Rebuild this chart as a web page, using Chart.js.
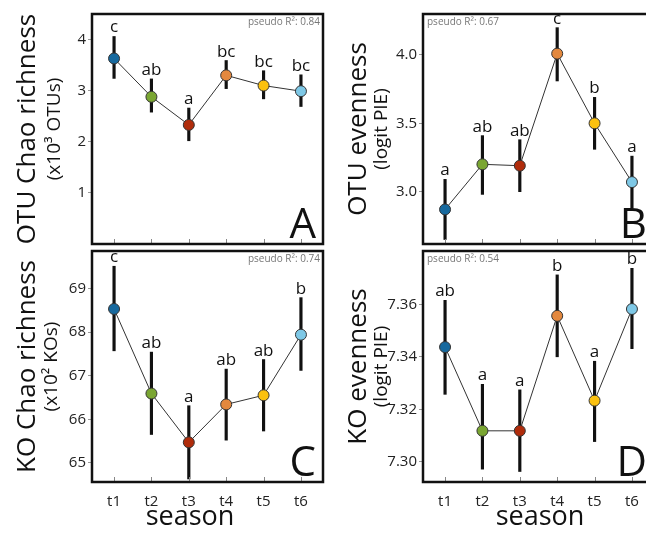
<!DOCTYPE html>
<html>
<head>
<meta charset="utf-8">
<script src="https://cdn.jsdelivr.net/npm/chart.js@4"></script>
<style>
  html, body { margin: 0; padding: 0; background: #fff; overflow: hidden; width: 646px; height: 533px; }
  canvas { position: absolute; left: 0; top: 0; }
</style>
</head>
<body>
<canvas id="chartA" width="700" height="533"></canvas>
<canvas id="chartB" width="700" height="533"></canvas>
<canvas id="chartC" width="700" height="533"></canvas>
<canvas id="chartD" width="700" height="533"></canvas>
<script>
const seasons = ['t1', 't2', 't3', 't4', 't5', 't6'];
const seasonColors = ['#17699e', '#7aa632', '#b02c0b', '#e3883e', '#fbc10f', '#7ec8e6'];

// A: OTU Chao richness (x10^3 OTUs)
const otuChao = [3.63, 2.88, 2.33, 3.30, 3.10, 2.99];
const otuChaoLo = [3.24, 2.58, 2.02, 3.04, 2.84, 2.69];
const otuChaoHi = [4.06, 3.23, 2.66, 3.59, 3.39, 3.31];
const otuChaoLetters = ['c', 'ab', 'a', 'bc', 'bc', 'bc'];
const otuChaoTicks = [1, 2, 3, 4];

// B: OTU evenness (logit PIE)
const otuEven = [2.87, 3.20, 3.19, 4.01, 3.50, 3.07];
const otuEvenLo = [2.65, 2.98, 3.00, 3.81, 3.31, 2.88];
const otuEvenHi = [3.09, 3.41, 3.38, 4.20, 3.69, 3.26];
const otuEvenLetters = ['a', 'ab', 'ab', 'c', 'b', 'a'];
const otuEvenTicks = [3.0, 3.5, 4.0];

// C: KO Chao richness (x10^2 KOs)
const koChao = [68.53, 66.59, 65.47, 66.34, 66.55, 67.94];
const koChaoLo = [67.57, 65.65, 64.63, 65.52, 65.73, 67.12];
const koChaoHi = [69.51, 67.54, 66.31, 67.15, 67.37, 68.79];
const koChaoLetters = ['c', 'ab', 'a', 'ab', 'ab', 'b'];
const koChaoTicks = [65, 66, 67, 68, 69];

// D: KO evenness (logit PIE)
const koEven = [7.3437, 7.3118, 7.3118, 7.3556, 7.3233, 7.3582];
const koEvenLo = [7.3257, 7.2972, 7.2963, 7.3400, 7.3077, 7.3431];
const koEvenHi = [7.3615, 7.3295, 7.3274, 7.3712, 7.3383, 7.3737];
const koEvenLetters = ['ab', 'a', 'a', 'b', 'a', 'b'];
const koEvenTicks = [7.30, 7.32, 7.34, 7.36];

const FONT = "'Open Sans', 'Noto Sans', sans-serif";
Chart.defaults.font.family = FONT;
Chart.defaults.color = '#222';

// draws frame, inner x ticks, significance letters, titles and panel letter
const decor = {
  id: 'decor',
  afterDatasetsDraw(chart, args, o) {
    const ctx = chart.ctx;
    const xs = chart.scales.x, ys = chart.scales.y;
    ctx.save();
    ctx.fillStyle = '#111';
    ctx.font = '17px ' + FONT;
    ctx.textAlign = 'center';
    ctx.textBaseline = 'alphabetic';
    o.letters.forEach((l, i) => {
      ctx.fillText(l, xs.getPixelForValue(i + 1), ys.getPixelForValue(o.hi[i]) - 4);
    });
    ctx.restore();
  },
  afterDraw(chart, args, o) {
    const ctx = chart.ctx;
    const a = chart.chartArea;
    const xs = chart.scales.x;
    ctx.save();
    // inner x ticks
    ctx.strokeStyle = '#888';
    ctx.lineWidth = 1;
    xs.ticks.forEach(t => {
      const px = Math.round(xs.getPixelForValue(t.value)) + 0.5;
      ctx.beginPath();
      ctx.moveTo(px, a.bottom);
      ctx.lineTo(px, a.bottom - 5);
      ctx.stroke();
    });
    // frame
    ctx.strokeStyle = '#111';
    ctx.lineWidth = 2.5;
    ctx.strokeRect(a.left, a.top, a.right - a.left, a.bottom - a.top);
    // pseudo R2
    ctx.fillStyle = '#777';
    ctx.font = '10px ' + FONT;
    ctx.textBaseline = 'middle';
    if (o.r2Left) {
      ctx.textAlign = 'left';
      ctx.fillText('pseudo R²: ' + o.r2, a.left + 4, a.top + 8);
    } else {
      ctx.textAlign = 'right';
      ctx.fillText('pseudo R²: ' + o.r2, a.right - 3, a.top + 8);
    }
    // panel letter
    ctx.fillStyle = '#111';
    ctx.font = '42px ' + FONT;
    ctx.textAlign = 'right';
    ctx.textBaseline = 'alphabetic';
    ctx.fillText(o.panel, a.right - 7, a.bottom - 6);
    // y titles
    const cy = (a.top + a.bottom) / 2;
    ctx.textAlign = 'center';
    ctx.textBaseline = 'middle';
    ctx.save();
    ctx.translate(o.titleX, cy);
    ctx.rotate(-Math.PI / 2);
    ctx.font = '26px ' + FONT;
    ctx.fillText(o.title, 0, 0);
    ctx.restore();
    ctx.save();
    ctx.translate(o.subX, cy);
    ctx.rotate(-Math.PI / 2);
    ctx.font = '19px ' + FONT;
    ctx.fillText(o.sub, 0, 0);
    ctx.restore();
    // x title
    if (o.xTitle) {
      ctx.font = '27px ' + FONT;
      ctx.fillText(o.xTitle, o.xTitleX, 517);
    }
    ctx.restore();
  }
};

function makePanel(id, box, vals, lo, hi, letters, yTicks, yMin, yMax, digits, info) {
  const showX = info.showX;
  new Chart(document.getElementById(id), {
    data: {
      datasets: [{
        type: 'line',
        data: vals.map((v, i) => ({x: i + 1, y: v})),
        borderColor: '#333',
        borderWidth: 1,
        pointRadius: 5.5,
        pointHoverRadius: 5.5,
        pointBackgroundColor: seasonColors,
        pointBorderColor: '#333',
        pointBorderWidth: 1,
        order: 0
      }, {
        type: 'bar',
        data: vals.map((v, i) => ({x: i + 1, y: [lo[i], hi[i]]})),
        backgroundColor: '#111',
        barThickness: 2.5,
        order: 1
      }]
    },
    options: {
      responsive: false,
      animation: false,
      layout: {padding: {left: box.padLeft, top: box.top, right: 700 - box.right, bottom: 533 - box.bottom - (showX ? 26 : 0)}},
      plugins: {
        legend: {display: false},
        tooltip: {enabled: false},
        decor: Object.assign({letters: letters, hi: hi}, info)
      },
      scales: {
        x: {
          type: 'linear',
          offset: false,
          min: 0.41,
          max: 6.59,
          afterBuildTicks: s => { s.ticks = seasons.map((l, i) => ({value: i + 1})); },
          afterFit: s => { s.height = showX ? 26 : 0; },
          grid: {display: false, offset: false},
          border: {display: false},
          ticks: {
            display: showX,
            padding: 3,
            color: '#222',
            font: {size: 15},
            callback: v => seasons[v - 1]
          }
        },
        y: {
          min: yMin,
          max: yMax,
          afterBuildTicks: s => { s.ticks = yTicks.map(v => ({value: v})); },
          afterFit: s => { s.width = box.left - box.padLeft; },
          grid: {drawOnChartArea: false, drawTicks: true, tickLength: 4, color: '#999'},
          border: {display: false},
          ticks: {
            padding: 2,
            color: '#222',
            font: {size: 15},
            callback: v => Number(v).toFixed(digits)
          }
        }
      }
    },
    plugins: [decor]
  });
}

makePanel('chartA', {padLeft: 0, left: 92, right: 323, top: 14, bottom: 244},
  otuChao, otuChaoLo, otuChaoHi, otuChaoLetters, otuChaoTicks, 0, 4.5, 0,
  {showX: false, r2: '0.84', r2Left: false, panel: 'A', title: 'OTU Chao richness', sub: '(x10³ OTUs)', titleX: 28, subX: 55});

makePanel('chartB', {padLeft: 330, left: 423, right: 654, top: 14, bottom: 244},
  otuEven, otuEvenLo, otuEvenHi, otuEvenLetters, otuEvenTicks, 2.617, 4.30, 1,
  {showX: false, r2: '0.67', r2Left: true, panel: 'B', title: 'OTU evenness', sub: '(logit PIE)', titleX: 359, subX: 382});

makePanel('chartC', {padLeft: 0, left: 92, right: 323, top: 251, bottom: 482},
  koChao, koChaoLo, koChaoHi, koChaoLetters, koChaoTicks, 64.56, 69.86, 0,
  {showX: true, r2: '0.74', r2Left: false, panel: 'C', title: 'KO Chao richness', sub: '(x10² KOs)', titleX: 28, subX: 52, xTitle: 'season', xTitleX: 190});

makePanel('chartD', {padLeft: 330, left: 423, right: 654, top: 251, bottom: 482},
  koEven, koEvenLo, koEvenHi, koEvenLetters, koEvenTicks, 7.2923, 7.3803, 2,
  {showX: true, r2: '0.54', r2Left: true, panel: 'D', title: 'KO evenness', sub: '(logit PIE)', titleX: 359, subX: 382, xTitle: 'season', xTitleX: 540});
</script>
</body>
</html>
